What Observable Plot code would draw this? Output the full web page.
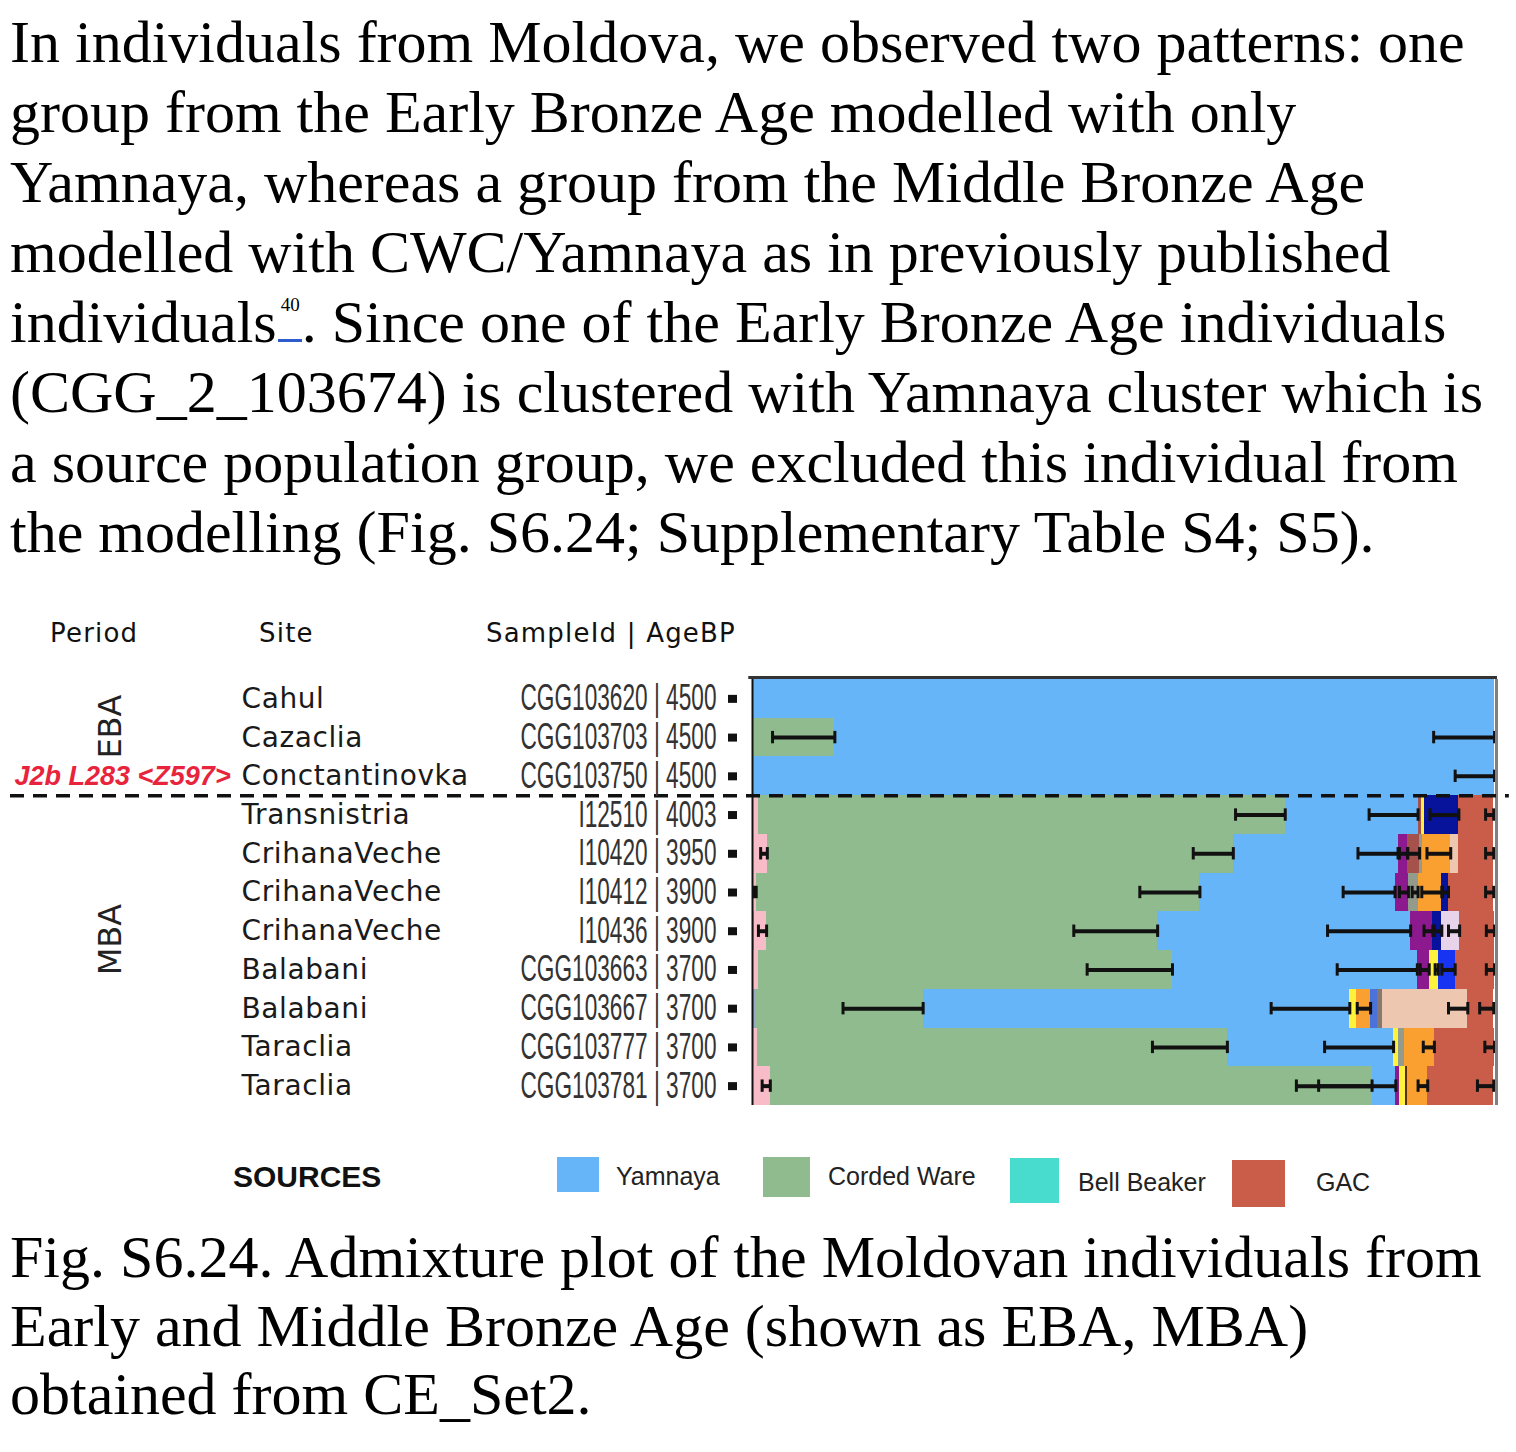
<!DOCTYPE html>
<html>
<head>
<meta charset="utf-8">
<script src="https://cdn.jsdelivr.net/npm/d3@7"></script>
<script src="https://cdn.jsdelivr.net/npm/@observablehq/plot@0.6"></script>
<style>
  html, body { margin: 0; padding: 0; background: #fff; }
  body { width: 1516px; height: 1452px; position: relative; overflow: hidden; }
  .serif { position: absolute; left: 10px; font-family: "Liberation Serif", "Times New Roman", serif;
           font-size: 60px; color: #000; white-space: nowrap; }
  #para { top: 7px; line-height: 70px; }
  #caption { top: 1223px; line-height: 68.5px; }
  .ref { display: inline-block; position: relative; width: 24px; height: 8px; border-bottom: 3px solid #2d5ccf; margin-left: 1px; }
  .ref span { position: absolute; left: 3px; top: -36px; font-size: 19px; line-height: 19px; }
  #chart { position: absolute; left: 0; top: 600px; }
  .hdr { position: absolute; top: 618px; font-family: "DejaVu Sans", sans-serif; font-size: 26px; line-height: 30px;
         letter-spacing: 1.2px; color: #111; white-space: nowrap; }
  #sources { position: absolute; left: 233px; top: 1161px; font-family: "Liberation Sans", Arial, sans-serif; font-weight: bold;
             font-size: 30px; line-height: 32px; color: #111; }
  .swatch { position: absolute; }
  .lab { position: absolute; font-family: "Liberation Sans", Arial, sans-serif; font-size: 25px; line-height: 30px;
         color: #222; white-space: nowrap; }
</style>
</head>
<body>
<div id="para" class="serif">
  <div>In individuals from Moldova, we observed two patterns: one</div>
  <div>group from the Early Bronze Age modelled with only</div>
  <div>Yamnaya, whereas a group from the Middle Bronze Age</div>
  <div>modelled with CWC/Yamnaya as in previously published</div>
  <div>individuals<span class="ref"><span>40</span></span>. Since one of the Early Bronze Age individuals</div>
  <div>(CGG_2_103674) is clustered with Yamnaya cluster which is</div>
  <div>a source population group, we excluded this individual from</div>
  <div>the modelling (Fig. S6.24; Supplementary Table S4; S5).</div>
</div>

<div class="hdr" style="left:50px">Period</div>
<div class="hdr" style="left:259px">Site</div>
<div class="hdr" style="left:486px">SampleId | AgeBP</div>

<div id="chart"></div>

<div id="sources">SOURCES</div>
<div id="legend"></div>

<div id="caption" class="serif">
  <div>Fig. S6.24. Admixture plot of the Moldovan individuals from</div>
  <div>Early and Middle Bronze Age (shown as EBA, MBA)</div>
  <div>obtained from CE_Set2.</div>
</div>

<script>
// ---------- data ----------
const samples = ["CGG103620 | 4500", "CGG103703 | 4500", "CGG103750 | 4500", "I12510 | 4003",
  "I10420 | 3950", "I10412 | 3900", "I10436 | 3900", "CGG103663 | 3700", "CGG103667 | 3700",
  "CGG103777 | 3700", "CGG103781 | 3700"];
const sites = ["Cahul", "Cazaclia", "Conctantinovka", "Transnistria", "CrihanaVeche", "CrihanaVeche",
  "CrihanaVeche", "Balabani", "Balabani", "Taraclia", "Taraclia"];
const periods = ["EBA", "EBA", "EBA", "MBA", "MBA", "MBA", "MBA", "MBA", "MBA", "MBA", "MBA"];
const haplogroups = ["", "", "J2b L283 <Z597>", "", "", "", "", "", "", "", ""];

// ancestry components, in stacking order, with their colours
const components = ["Slate", "Pink", "Corded Ware", "Yamnaya", "Purple", "Brown", "Yellow", "Grey",
  "Dark brown", "Orange", "Royal blue", "Grey brown", "Navy", "Blue", "Lavender", "Peach", "GAC"];
const componentColors = ["#93a9c6", "#f7bcc8", "#8fbb8f", "#66b5f9", "#8c1a8e", "#a4524b", "#fff23c",
  "#939c8c", "#5b2c12", "#f9a031", "#4b72d9", "#86776f", "#06139a", "#1734f2", "#e7d4ea", "#eec7b0", "#c95d49"];

// share (%) of each component per sample
const slate      = [0, 0, 0, 0, 0, 0, 0.3, 0, 0.4, 0, 0];
const pink       = [0, 0, 0, 0.8, 2.0, 0.5, 1.6, 0.8, 0, 0.7, 2.4];
const cordedWare = [0, 11.1, 0, 71.0, 62.8, 59.8, 52.7, 55.8, 22.6, 63.3, 81.1];
const yamnaya    = [100, 88.9, 100, 17.9, 22.2, 26.3, 34.1, 33.0, 57.5, 22.4, 3.2];
const purple     = [0, 0, 0, 0, 1.3, 1.8, 3.0, 1.6, 0, 0, 0.5];
const brown      = [0, 0, 0, 0.4, 1.6, 0, 0, 0, 0, 0, 0];
const yellow     = [0, 0, 0, 0.5, 0, 0, 0, 1.2, 0.9, 0.7, 0.8];
const grey       = [0, 0, 0, 0, 0.4, 1.3, 0, 0, 0, 0.8, 0];
const darkBrown  = [0, 0, 0, 0, 0, 0, 0, 0, 0, 0, 0.3];
const orange     = [0, 0, 0, 0, 3.8, 3.2, 0, 0, 1.9, 4.0, 2.7];
const royalBlue  = [0, 0, 0, 0, 0, 0, 0, 0, 0.9, 0, 0];
const greyBrown  = [0, 0, 0, 0, 0, 0, 0, 0, 0.7, 0, 0];
const navy       = [0, 0, 0, 4.6, 0, 0.9, 1.2, 0, 0, 0, 0];
const blue       = [0, 0, 0, 0, 0, 0, 0, 2.3, 0, 0, 0];
const lavender   = [0, 0, 0, 0, 0, 0, 2.4, 0, 0, 0, 0];
const peach      = [0, 0, 0, 0, 1.1, 0, 0, 0, 11.5, 0, 0];
const gac        = [0, 0, 0, 4.7, 4.7, 6.1, 4.7, 5.3, 3.5, 8.1, 8.9];

// standard errors (%) per component per sample (0 = not shown)
const none          = [0, 0, 0, 0, 0, 0, 0, 0, 0, 0, 0];
const pinkErr       = [0, 0, 0, 0, 0.9, 0.3, 1.1, 0, 0, 0, 1.1];
const cordedWareErr = [0, 8.4, 0, 6.7, 5.4, 8.1, 11.3, 11.5, 10.8, 10.1, 10.2];
const yamnayaErr    = [0, 8.2, 5.3, 6.6, 5.4, 7.0, 11.2, 10.8, 10.6, 9.3, 10.4];
const purpleErr     = [0, 0, 0, 0, 1.1, 1.2, 1.2, 1.2, 0, 0, 0];
const brownErr      = [0, 0, 0, 0, 1.6, 0, 0, 0, 0, 0, 0];
const yellowErr     = [0, 0, 0, 0, 0, 0, 0, 0.4, 0, 0, 0];
const greyErr       = [0, 0, 0, 0, 0, 0.8, 0, 0, 0, 0, 0];
const orangeErr     = [0, 0, 0, 0, 3.2, 2.7, 0, 0, 1.8, 1.5, 1.3];
const navyErr       = [0, 0, 0, 3.9, 0, 0.8, 1.0, 0, 0, 0, 0];
const blueErr       = [0, 0, 0, 0, 0, 0, 0, 1.8, 0, 0, 0];
const lavenderErr   = [0, 0, 0, 0, 0, 0, 1.5, 0, 0, 0, 0];
const peachErr      = [0, 0, 0, 0, 0, 0, 0, 0, 2.6, 0, 0];
const gacErr        = [0, 0, 0, 1.1, 1.1, 1.1, 1.1, 1.1, 1.9, 1.3, 2.2];

const legendNames = ["Yamnaya", "Corded Ware", "Bell Beaker", "GAC"];
const legendColors = ["#66b5f9", "#8fbb8f", "#48dccf", "#c95d49"];

// ---------- build tables ----------
const shares = [slate, pink, cordedWare, yamnaya, purple, brown, yellow, grey, darkBrown, orange,
  royalBlue, greyBrown, navy, blue, lavender, peach, gac];
const errors = [none, pinkErr, cordedWareErr, yamnayaErr, purpleErr, brownErr, yellowErr, greyErr, none,
  orangeErr, none, none, navyErr, blueErr, lavenderErr, peachErr, gacErr];

const bars = [], errs = [];
samples.forEach((s, i) => {
  let acc = 0;
  components.forEach((c, k) => {
    const v = shares[k][i];
    if (v > 0) bars.push({i, comp: c, x1: acc, x2: acc + v});
    acc += v;
    const e = errors[k][i];
    if (e > 0) errs.push({i, lo: acc - e, hi: acc});
  });
});

const rows = samples.map((s, i) => ({i, sample: s, site: sites[i], period: periods[i], hap: haplogroups[i]}));
const periodGroups = d3.groups(rows, d => d.period).map(([name, rs]) => ({name, mid: d3.mean(rs, r => r.i + 0.5)}));
const centers = rows.map(r => r.i + 0.5);

const chart = Plot.plot({
  width: 1516,
  height: 520,
  marginTop: 79,
  marginBottom: 15,
  marginLeft: 752,
  marginRight: 22,
  style: {background: "transparent", overflow: "visible"},
  x: {domain: [0, 100], axis: null},
  y: {domain: [0, samples.length], reverse: true, axis: null},
  color: {domain: components, range: componentColors},
  marks: [
    Plot.rect(bars, {x1: "x1", x2: "x2", y1: "i", y2: d => d.i + 1, fill: "comp", shapeRendering: "crispEdges"}),
    Plot.ruleY(errs, {y: d => d.i + 0.5, x1: "lo", x2: "hi", stroke: "#111", strokeWidth: 4}),
    Plot.ruleX(errs, {x: "lo", y1: d => d.i + 0.34, y2: d => d.i + 0.66, stroke: "#111", strokeWidth: 3}),
    Plot.ruleX(errs, {x: "hi", y1: d => d.i + 0.34, y2: d => d.i + 0.66, stroke: "#111", strokeWidth: 3}),
    Plot.ruleX([0], {stroke: "#111", strokeWidth: 2}),
    Plot.ruleX([100], {stroke: "#808080", strokeWidth: 3, dx: 2}),
    Plot.ruleY([0], {x1: -0.5, x2: 100.4, stroke: "#333", strokeWidth: 3, dy: -2}),
    Plot.ruleY([3], {x1: -100, x2: 102, stroke: "#111", strokeWidth: 3.5, strokeDasharray: "14,9"}),
    Plot.axisY({
      ticks: centers, tickFormat: d => samples[Math.floor(d)], tickSize: 9, tickPadding: 12, dx: -15,
      stroke: "#111", strokeWidth: 8, fill: "#333", fontSize: 36,
      fontFamily: "Liberation Sans Narrow, Arial Narrow, Liberation Sans, sans-serif", label: null
    }),
    Plot.text(rows, {y: d => d.i + 0.5, text: "site", frameAnchor: "left", dx: -511, textAnchor: "start",
      fontSize: 28, fontFamily: "DejaVu Sans, sans-serif", fill: "#1a1a1a"}),
    Plot.text(rows.filter(d => d.hap), {y: d => d.i + 0.5, text: "hap", frameAnchor: "left", dx: -738,
      textAnchor: "start", fontSize: 27, fontWeight: "bold", fontStyle: "italic",
      fontFamily: "Liberation Sans, Arial, sans-serif", fill: "#e8243c"}),
    Plot.text(periodGroups, {y: "mid", text: "name", rotate: -90, frameAnchor: "left", dx: -642, dy: -11,
      textAnchor: "middle", fontSize: 32, fontFamily: "DejaVu Sans, sans-serif", fill: "#222"})
  ]
});

document.getElementById("chart").append(chart);

// condensed sample labels
const labels = chart.querySelectorAll('[aria-label="y-axis tick label"] text');
let maxW = 0;
labels.forEach(t => { maxW = Math.max(maxW, t.getComputedTextLength()); });
const k = 196 / maxW;
labels.forEach(t => {
  t.setAttribute("textLength", t.getComputedTextLength() * k);
  t.setAttribute("lengthAdjust", "spacingAndGlyphs");
});
// letter spacing for site labels
chart.querySelectorAll('text').forEach(t => {
  if (sites.includes(t.textContent)) t.style.letterSpacing = "0.6px";
});

// legend (layout only: swatch boxes and label positions)
const legendLayout = [
  {left: 557, top: 1157, w: 42, h: 35, lab: 616, labTop: 1161},
  {left: 763, top: 1157, w: 47, h: 40, lab: 828, labTop: 1161},
  {left: 1010, top: 1158, w: 49, h: 45, lab: 1078, labTop: 1167},
  {left: 1232, top: 1160, w: 53, h: 47, lab: 1316, labTop: 1167}
];
const legend = document.getElementById("legend");
legendNames.forEach((n, i) => {
  const L = legendLayout[i];
  const sw = document.createElement("div");
  sw.className = "swatch";
  sw.style.cssText = `left:${L.left}px;top:${L.top}px;width:${L.w}px;height:${L.h}px;background:${legendColors[i]}`;
  const lab = document.createElement("div");
  lab.className = "lab";
  lab.style.cssText = `left:${L.lab}px;top:${L.labTop}px`;
  lab.textContent = n;
  legend.append(sw, lab);
});
</script>
</body>
</html>
